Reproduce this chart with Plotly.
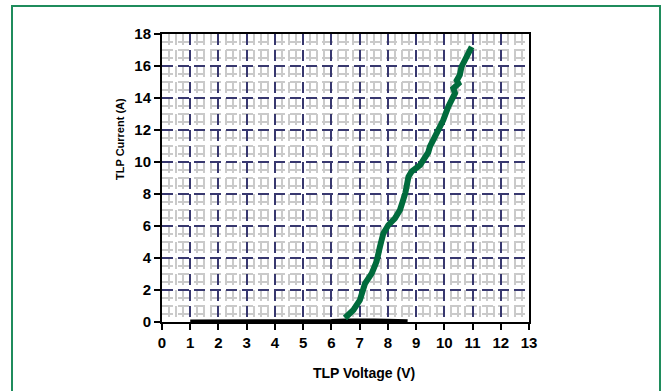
import plotly.graph_objects as go

# Data
green_v = [6.48, 6.78, 7.01, 7.13, 7.19, 7.43, 7.60, 7.72, 7.84, 8.02, 8.25, 8.43, 8.55, 8.62, 8.73, 8.84,
           9.14, 9.32, 9.43, 9.49, 9.73, 9.96, 10.14, 10.26, 10.38, 10.32, 10.50, 10.44, 10.55, 10.61,
           10.73, 10.85, 10.97]
green_i = [0.25, 0.75, 1.37, 2.0, 2.4, 3.04, 3.77, 4.7, 5.54, 6.06, 6.48, 7.0, 7.6, 8.06, 9.08, 9.4,
           9.8, 10.33, 10.6, 10.96, 11.8, 12.6, 13.46, 13.95, 14.3, 14.6, 14.9, 15.1, 15.44, 15.96,
           16.4, 16.7, 17.2]
black_v = [1.0, 2.0, 3.0, 4.0, 5.0, 6.0, 6.5, 7.0, 7.5, 8.0, 8.7]
black_i = [0.03, 0.03, 0.04, 0.04, 0.05, 0.06, 0.1, 0.12, 0.1, 0.08, 0.05]

x_ticks = list(range(0, 14))
y_ticks = list(range(0, 19, 2))

fig = go.Figure()
fig.add_trace(go.Scatter(x=black_v, y=black_i, mode="lines",
                         line=dict(color="black", width=4), hoverinfo="skip"))
fig.add_trace(go.Scatter(x=green_v, y=green_i, mode="lines",
                         line=dict(color="#006b3c", width=6), hoverinfo="skip"))

tick_font = dict(family="Liberation Sans, Arial", size=15, color="black")
fig.update_layout(
    width=667, height=391,
    margin=dict(l=162, r=138, t=34, b=69),
    paper_bgcolor="white", plot_bgcolor="white",
    showlegend=False,
    xaxis=dict(range=[0, 13], tickvals=x_ticks, ticktext=[f"<b>{v}</b>" for v in x_ticks],
               tickfont=tick_font, ticks="outside", ticklen=6, tickwidth=1.5, tickcolor="black",
               showline=True, linecolor="black", linewidth=2, mirror=True,
               showgrid=True, gridcolor="#38386f", gridwidth=1.7, griddash="11px,5px",
               minor=dict(dtick=0.25, showgrid=True, gridcolor="#cacaca", gridwidth=1.5, ticks=""),
               zeroline=False, fixedrange=True),
    yaxis=dict(range=[0, 18], tickvals=y_ticks, ticktext=[f"<b>{v}</b>" for v in y_ticks],
               tickfont=tick_font, ticks="outside", ticklen=6, tickwidth=1.5, tickcolor="black",
               showline=True, linecolor="black", linewidth=2, mirror=True,
               showgrid=True, gridcolor="#38386f", gridwidth=1.7, griddash="11px,5px",
               minor=dict(dtick=0.5, showgrid=True, gridcolor="#cacaca", gridwidth=1.5, ticks=""),
               zeroline=False, fixedrange=True),
)

fig.add_annotation(text="<b>TLP Voltage (V)</b>", xref="paper", yref="paper",
                   x=(364 - 162) / 367, y=(322 - 373) / 288, xanchor="center", yanchor="middle",
                   showarrow=False,
                   font=dict(family="Liberation Sans, Arial", size=14, color="black"))
fig.add_annotation(text="<b>TLP Current (A)</b>", xref="paper", yref="paper",
                   x=(120 - 162) / 367, y=(322 - 139) / 288, xanchor="center", yanchor="middle",
                   showarrow=False, textangle=-90,
                   font=dict(family="Liberation Sans, Arial", size=11, color="black"))

# green frame
fig.add_shape(type="rect", xref="paper", yref="paper",
              x0=(12 - 162) / 367, x1=(660 - 162) / 367,
              y0=(322 - 400) / 288, y1=(322 - 6) / 288,
              line=dict(color="#1f8c5c", width=2), fillcolor="rgba(0,0,0,0)", layer="below")

fig.write_html("out.html")
